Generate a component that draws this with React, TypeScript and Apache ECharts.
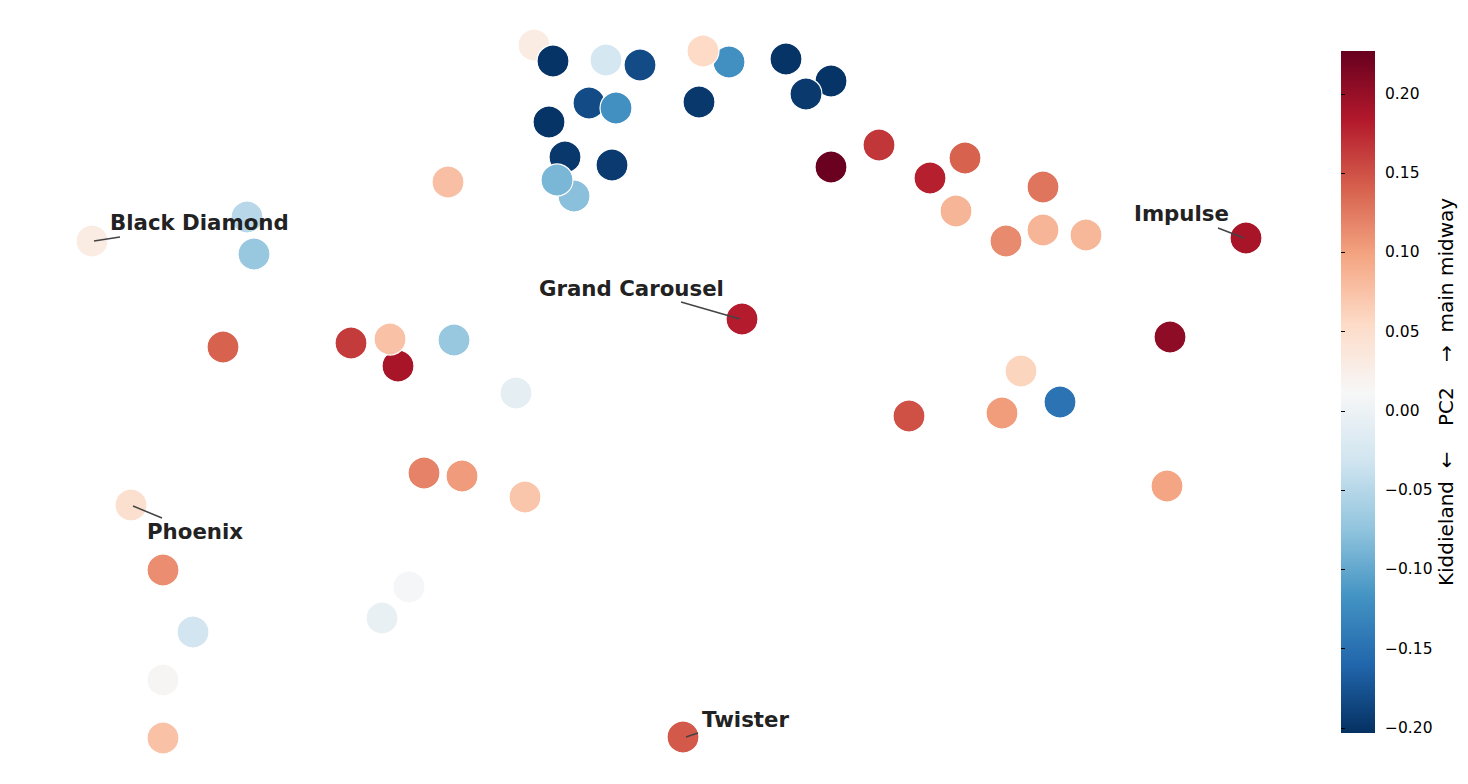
import React, { useEffect, useRef } from "react";
import * as echarts from "echarts";

// Layout coordinates of each ride (chart units) and its PC2 score
const pointX = [534, 553, 606, 640, 729, 703, 786, 831, 806, 589, 616, 699, 549, 565, 612, 574, 557, 448, 831, 879, 930, 965, 1043, 956, 1006, 1043, 1086, 1246, 247, 92, 254, 223, 351, 398, 390, 454, 516, 742, 1170, 1021, 1060, 909, 1002, 424, 462, 525, 131, 1167, 163, 409, 382, 193, 163, 163, 683];
const pointY = [45, 61, 60, 65, 62, 51, 59, 81, 94, 103, 108, 102, 122, 157, 165, 196, 180, 182, 167, 145, 178, 158, 187, 211, 241, 230, 235, 238, 217, 241, 254, 347, 343, 366, 339, 340, 393, 319, 337, 371, 402, 416, 413, 473, 476, 497, 505, 486, 570, 587, 618, 632, 680, 738, 737];
const pc2 = [0.03, -0.2, -0.027, -0.182, -0.12, 0.055, -0.2, -0.2, -0.196, -0.182, -0.12, -0.197, -0.2, -0.197, -0.195, -0.078, -0.087, 0.077, 0.225, 0.166, 0.18, 0.14, 0.128, 0.085, 0.115, 0.085, 0.083, 0.19, -0.048, 0.03, -0.07, 0.14, 0.163, 0.19, 0.075, -0.07, -0.01, 0.182, 0.205, 0.06, -0.148, 0.15, 0.103, 0.12, 0.104, 0.072, 0.048, 0.097, 0.113, 0.01, -0.005, -0.03, 0.015, 0.075, 0.145];

// Annotated rides
const annNames = ["Black Diamond", "Grand Carousel", "Impulse", "Phoenix", "Twister"];
const annTextX = [110, 539, 1134, 147, 702];
const annTextY = [222, 288, 213, 531, 719];
const annLineFromX = [94, 740, 1244, 133, 686];
const annLineFromY = [241, 319, 238, 506, 737];
const annLineToX = [120, 681, 1218, 162, 698];
const annLineToY = [237, 302, 228, 518, 733];

// Colour scale
const pcMin = -0.2032;
const pcMax = 0.2271;
const colorTicks = [-0.2, -0.15, -0.1, -0.05, 0, 0.05, 0.1, 0.15, 0.2];
const rdbuR = ["#053061", "#2166ac", "#4393c3", "#92c5de", "#d1e5f0", "#f7f7f7", "#fddbc7", "#f4a582", "#d6604d", "#b2182b", "#67001f"];
const cbarLabel = "Kiddieland  ←    PC2    →  main midway";

export default function App() {
  const ref = useRef<HTMLDivElement>(null);
  useEffect(() => {
    if (!ref.current) return;
    const chart = echarts.init(ref.current, null, { renderer: "svg" });
    const pts = pointX.map((x, i) => [x, pointY[i], pc2[i]]);
    const lines = annNames.map((n, i) => ({
      coords: [
        [annLineFromX[i], annLineFromY[i]],
        [annLineToX[i], annLineToY[i]],
      ],
    }));
    const labels = annNames.map((n, i) => ({ name: n, value: [annTextX[i], annTextY[i]] }));
    const gradStops = rdbuR
      .slice()
      .reverse()
      .map((c, i) => ({ offset: i / (rdbuR.length - 1), color: c }));
    const cbLeft = 1341, cbTop = 51, cbW = 34, cbH = 682;
    chart.setOption({
      animation: false,
      backgroundColor: "#ffffff",
      grid: [
        { left: 0, top: 0, width: 1468, height: 784 },
        { left: cbLeft, top: cbTop, width: cbW, height: cbH },
      ],
      xAxis: [
        { type: "value", min: 0, max: 1468, show: false, gridIndex: 0 },
        { type: "value", min: 0, max: 1, show: false, gridIndex: 1 },
      ],
      yAxis: [
        { type: "value", min: 0, max: 784, inverse: true, show: false, gridIndex: 0 },
        {
          type: "value",
          gridIndex: 1,
          position: "right",
          min: pcMin,
          max: pcMax,
          axisLine: { show: false },
          splitLine: { show: false },
          axisTick: {
            show: true,
            length: 4,
            customValues: colorTicks,
            lineStyle: { color: "#000", width: 1 },
          },
          axisLabel: {
            customValues: colorTicks,
            margin: 10,
            fontSize: 15.5,
            color: "#000",
            fontFamily: "DejaVu Sans",
            formatter: (v: number) => v.toFixed(2).replace("-", "\u2212"),
          },
          name: cbarLabel,
          nameLocation: "middle",
          nameRotate: 90,
          nameGap: 60,
          nameTextStyle: { fontSize: 20, color: "#000", fontFamily: "DejaVu Sans" },
        },
      ],
      visualMap: {
        show: false,
        type: "continuous",
        seriesIndex: 0,
        dimension: 2,
        min: pcMin,
        max: pcMax,
        inRange: { color: rdbuR },
      },
      graphic: [
        {
          type: "rect",
          shape: { x: cbLeft, y: cbTop, width: cbW, height: cbH },
          style: { fill: new echarts.graphic.LinearGradient(0, 0, 0, 1, gradStops) },
          z: 0,
        },
      ],
      series: [
        {
          type: "scatter",
          xAxisIndex: 0,
          yAxisIndex: 0,
          data: pts,
          symbolSize: 32,
          itemStyle: { borderColor: "#ffffff", borderWidth: 1.2, opacity: 1 },
          z: 2,
        },
        {
          type: "lines",
          coordinateSystem: "cartesian2d",
          xAxisIndex: 0,
          yAxisIndex: 0,
          data: lines,
          symbol: "none",
          lineStyle: { color: "#444444", width: 1.5, opacity: 1 },
          z: 3,
        },
        {
          type: "scatter",
          xAxisIndex: 0,
          yAxisIndex: 0,
          data: labels,
          symbolSize: 0,
          itemStyle: { color: "rgba(0,0,0,0)" },
          label: {
            show: true,
            position: "right",
            distance: 0,
            formatter: "{b}",
            fontSize: 21.3,
            fontWeight: "bold",
            fontFamily: "DejaVu Sans",
            color: "#222222",
            opacity: 1,
          },
          emphasis: { disabled: true },
          z: 4,
        },
      ],
    });
    return () => chart.dispose();
  }, []);
  return (
    <div
      ref={ref}
      style={{ position: "fixed", left: 0, top: 0, width: 1468, height: 784, background: "#fff" }}
    />
  );
}
